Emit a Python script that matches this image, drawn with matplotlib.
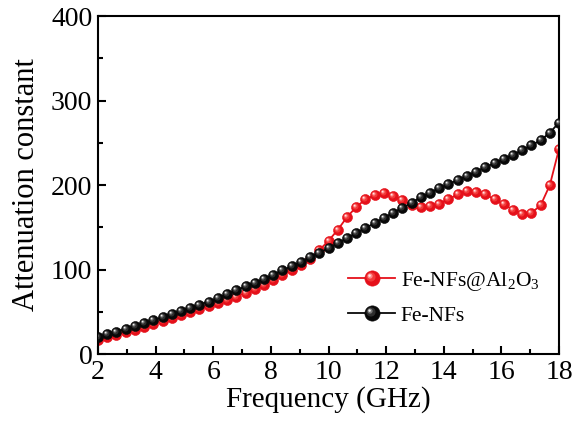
import matplotlib
matplotlib.use("Agg")
import matplotlib.pyplot as plt
import numpy as np
from matplotlib.path import Path
from matplotlib.lines import Line2D
from matplotlib.legend_handler import HandlerTuple
from matplotlib.ticker import MultipleLocator

plt.rcParams['font.family'] = ['Liberation Serif', 'DejaVu Serif']
plt.rcParams['mathtext.fontset'] = 'custom'
plt.rcParams['mathtext.rm'] = 'Liberation Serif'

# frequency grid (GHz)
freq = [2.00, 2.32, 2.64, 2.96, 3.28, 3.60, 3.92, 4.24, 4.56, 4.88,
        5.20, 5.52, 5.84, 6.16, 6.48, 6.80, 7.12, 7.44, 7.76, 8.08,
        8.40, 8.72, 9.04, 9.36, 9.68, 10.00, 10.32, 10.64, 10.96, 11.28,
        11.60, 11.92, 12.24, 12.56, 12.88, 13.20, 13.52, 13.84, 14.16, 14.48,
        14.80, 15.12, 15.44, 15.76, 16.08, 16.40, 16.72, 17.04, 17.36, 17.68,
        18.00]

# Fe-NFs@Al2O3
alpha_coated = [17, 20, 23, 26, 29, 32, 35.5, 39, 42.5, 46,
                49.5, 53, 56.5, 60, 64, 68, 72.5, 77, 82, 87.5,
                93, 99, 105, 113, 123, 134, 147, 162, 174, 183,
                188, 190, 187, 182, 176, 174, 175, 178, 183, 189,
                193, 192, 189, 183, 177, 171, 166, 167, 176, 200,
                243]

# Fe-NFs
alpha_bare = [20.0, 23.3, 26.6, 29.9, 33.2, 36.6, 40.0, 43.8, 47.5, 51.2,
              54.9, 58.5, 62.1, 66.3, 71, 75.5, 80, 84.5, 89, 94,
              99, 104, 109, 114.5, 120, 125, 131, 137, 143, 149,
              155, 161, 167, 173, 179, 185.5, 191, 196, 201, 206,
              211, 216, 221, 226, 231, 236, 241, 247, 253, 262,
              274]


def glint_marker(cx, cy, r):
    """Off-centre circle used as a highlight on the ball markers."""
    circ = Path.circle((cx, cy), r)
    scale = np.max(np.abs(circ.vertices))
    return circ, 2 * scale


GLINTS = [(-0.10, 0.10, 0.30), (-0.16, 0.16, 0.17), (-0.19, 0.19, 0.08)]


def ball_layers(color, shades, ms):
    layers = [dict(marker='o', ms=ms, mfc=color, mec=color, mew=0.4)]
    for (cx, cy, r), c in zip(GLINTS, shades):
        p, f = glint_marker(cx, cy, r)
        layers.append(dict(marker=p, ms=ms * f, mfc=c, mec='none'))
    return layers


def balls(ax, x, y, color, shades, ms, z):
    ax.plot(x, y, '-', color=color, lw=1.3, zorder=z)
    for i, kw in enumerate(ball_layers(color, shades, ms)):
        ax.plot(x, y, ls='none', zorder=z + 0.1 * (i + 1), **kw)


def legend_handle(color, shades, ms):
    handles = []
    for i, kw in enumerate(ball_layers(color, shades, ms)):
        if i == 0:
            handles.append(Line2D([], [], color=color, lw=1.3, **kw))
        else:
            handles.append(Line2D([], [], ls='none', **kw))
    return tuple(handles)


fig = plt.figure(figsize=(5.74, 4.34), dpi=100)
ax = fig.add_axes([0.1707, 0.1843, 0.8033, 0.7787])

red, red_shades = '#e5101a', ['#f23a3a', '#ff8a8a', '#ffe8e8']
blk, blk_shades = '#080808', ['#2e2e2e', '#777777', '#eeeeee']

balls(ax, freq, alpha_coated, red, red_shades, 7.2, 2)
balls(ax, freq, alpha_bare, blk, blk_shades, 7.2, 5)

ax.set_xlim(2, 18)
ax.set_ylim(0, 400)
ax.xaxis.set_major_locator(MultipleLocator(2))
ax.xaxis.set_minor_locator(MultipleLocator(1))
ax.yaxis.set_major_locator(MultipleLocator(100))
ax.yaxis.set_minor_locator(MultipleLocator(50))
ax.tick_params(which='both', direction='in', top=False, right=False,
               width=1.5, labelsize=20, pad=4)
ax.tick_params(which='major', length=6)
ax.tick_params(which='minor', length=3.5)
for s in ax.spines.values():
    s.set_linewidth(1.5)

ax.set_xlabel('Frequency (GHz)', fontsize=21, labelpad=1)
ax.set_ylabel('Attenuation constant', fontsize=22, labelpad=7)

h_red = legend_handle(red, red_shades, 11)
h_blk = legend_handle(blk, blk_shades, 11)
ax.legend([h_red, h_blk], ['Fe-NFs@Al$_2$O$_3$', 'Fe-NFs'],
          handler_map={tuple: HandlerTuple(ndivide=1, pad=0)},
          loc='upper left', bbox_to_anchor=(0.542, 0.25), frameon=False,
          borderpad=0, borderaxespad=0,
          fontsize=15.5, handlelength=2.2, handletextpad=0.25, labelspacing=0.6,
          numpoints=1)

fig.savefig('out.png', dpi=100)
